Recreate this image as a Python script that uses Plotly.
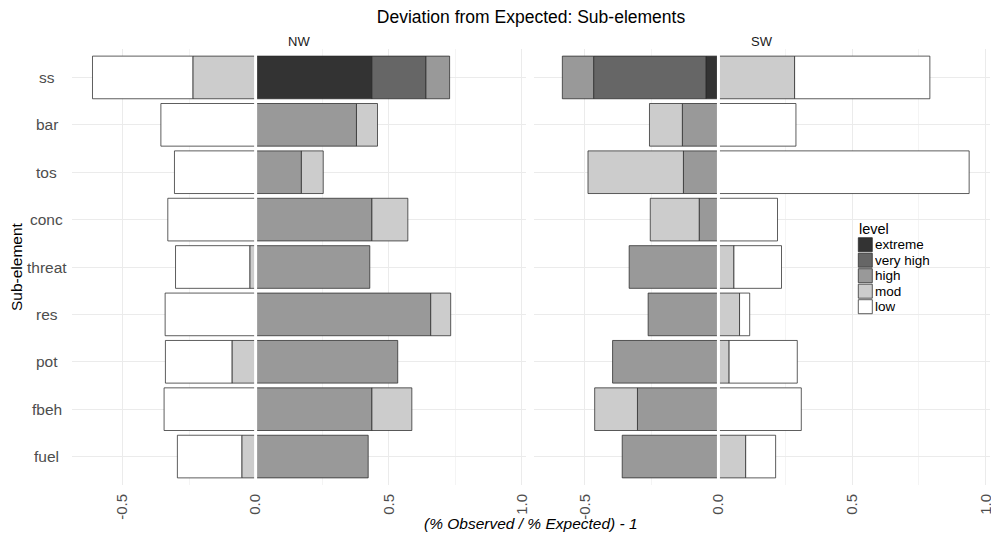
import plotly.graph_objects as go

categories = ["ss", "bar", "tos", "conc", "threat", "res", "pot", "fbeh", "fuel"]
levels = ["extreme", "very high", "high", "mod", "low"]
level_colors = ["#333333", "#666666", "#999999", "#cccccc", "#ffffff"]
panels = ["NW", "SW"]

nw_extreme = [0.437, None, None, None, None, None, None, None, None]
nw_very_high = [0.203, None, None, None, None, None, None, None, None]
nw_high = [0.089, 0.379, 0.172, 0.437, 0.429, 0.658, 0.534, 0.437, 0.423]
nw_mod = [-0.236, 0.079, 0.082, 0.135, -0.022, 0.075, -0.089, 0.150, -0.052]
nw_low = [-0.377, -0.356, -0.305, -0.330, -0.279, -0.340, -0.250, -0.344, -0.242]

sw_extreme = [-0.047, None, None, None, None, None, None, None, None]
sw_very_high = [-0.420, None, None, None, None, None, None, None, None]
sw_high = [-0.117, -0.135, -0.131, -0.072, -0.334, -0.263, -0.396, -0.303, -0.360]
sw_mod = [0.285, -0.123, -0.357, -0.183, 0.058, 0.079, 0.040, -0.160, 0.102]
sw_low = [0.506, 0.290, 0.938, 0.221, 0.178, 0.038, 0.255, 0.310, 0.112]

x_ticks = [-0.5, 0.0, 0.5, 1.0]
x_tick_labels = ["-0.5", "0.0", "0.5", "1.0"]

panel_data = {
    "NW": [nw_extreme, nw_very_high, nw_high, nw_mod, nw_low],
    "SW": [sw_extreme, sw_very_high, sw_high, sw_mod, sw_low],
}

W, H = 991, 541
ml, mr, mt, mb = 72, 1, 49, 56
pw = W - ml - mr
ph = H - mt - mb


def px_x(p):
    return (p - ml) / pw


def px_y(p):
    return 1 - (p - mt) / ph


outline = "rgba(40,40,40,0.75)"
fig = go.Figure()
axes = [("x", "y"), ("x2", "y2")]
for p_i, panel in enumerate(panels):
    xa, ya = axes[p_i]
    for l_i, lev in enumerate(levels):
        fig.add_trace(go.Bar(
            y=categories, x=panel_data[panel][l_i], orientation="h",
            name=lev, legendgroup=lev, showlegend=False,
            marker=dict(color=level_colors[l_i], line=dict(color=outline, width=1)),
            xaxis=xa, yaxis=ya,
            hovertemplate="%{y}: %{x}<extra>" + lev + "</extra>",
        ))

font_family = "Liberation Sans, Arial, sans-serif"
xrange = [-0.69, 1.016]
yrange = [8.6, -0.6]
grid_major = "#ebebeb"
grid_minor = "#f4f4f4"

dom1 = [0.0, px_x(526)]
dom2 = [px_x(534), 1.0]

xcommon = dict(range=xrange, tickvals=x_ticks, ticktext=x_tick_labels, tickangle=-90,
               showgrid=True, gridcolor=grid_major, gridwidth=1, zeroline=False,
               showline=False, ticks="", ticklabelstandoff=5, ticklabeloverflow="allow",
               tickfont=dict(size=15, color="#4d4d4d", family=font_family),
               minor=dict(tickvals=[-0.25, 0.25, 0.75], showgrid=True, gridcolor=grid_minor, gridwidth=1))
ycommon = dict(range=yrange, type="category", categoryorder="array", categoryarray=categories,
               showgrid=True, gridcolor=grid_major, gridwidth=1, zeroline=False,
               showline=False, ticks="", showticklabels=False)

fig.update_layout(
    width=W, height=H,
    margin=dict(l=ml, r=mr, t=mt, b=mb, autoexpand=False),
    paper_bgcolor="white", plot_bgcolor="white",
    barmode="relative", bargap=0.1,
    font=dict(family=font_family, color="#1a1a1a"),
    xaxis=dict(domain=dom1, anchor="y", **xcommon),
    xaxis2=dict(domain=dom2, anchor="y2", **xcommon),
    yaxis=dict(domain=[0, 1], anchor="x", **ycommon),
    yaxis2=dict(domain=[0, 1], anchor="x2", **ycommon),
    title=dict(text="Deviation from Expected: Sub-elements", x=0.5, xref="paper",
               xanchor="center", y=1 - 17 / H, yanchor="middle",
               font=dict(size=17.5, color="#000000", family=font_family)),
    showlegend=False,
)

# white separator at zero
for xa in ["x", "x2"]:
    dom_y = "y domain" if xa == "x" else "y2 domain"
    fig.add_shape(type="line", xref=xa, yref=dom_y, x0=0, x1=0, y0=0, y1=1,
                  line=dict(color="white", width=3), layer="above")

# facet strip labels
for p_i, panel in enumerate(panels):
    dom = dom1 if p_i == 0 else dom2
    fig.add_annotation(text=panel, xref="paper", yref="paper", x=(dom[0] + dom[1]) / 2,
                       y=px_y(41), showarrow=False, xanchor="center", yanchor="middle",
                       font=dict(size=13, color="#1a1a1a", family=font_family))

# y category labels (centered)
for c in categories:
    fig.add_annotation(text=c, xref="paper", yref="y", x=px_x(46.5), y=c, showarrow=False,
                       xanchor="center", yanchor="middle",
                       font=dict(size=15.5, color="#4d4d4d", family=font_family))

# axis titles
fig.add_annotation(text="<i>(% Observed / % Expected) - 1</i>", xref="paper", yref="paper",
                   x=0.5, y=px_y(523), showarrow=False, xanchor="center", yanchor="middle",
                   font=dict(size=15.5, color="#000000", family=font_family))
fig.add_annotation(text="Sub-element", xref="paper", yref="paper", textangle=-90,
                   x=px_x(16), y=0.5, showarrow=False, xanchor="center", yanchor="middle",
                   font=dict(size=15.5, color="#000000", family=font_family))

# legend (drawn inside SW panel, ggplot-style compact keys)
fig.add_annotation(text="level", xref="paper", yref="paper", x=px_x(857), y=px_y(228.5),
                   showarrow=False, xanchor="left", yanchor="middle", height=15,
                   font=dict(size=14.5, color="#000000", family=font_family))
for l_i, lev in enumerate(levels):
    top = 237.7 + 15.5 * l_i
    fig.add_shape(type="rect", xref="paper", yref="paper",
                  x0=px_x(858.3), x1=px_x(872.3), y0=px_y(top + 14), y1=px_y(top),
                  fillcolor=level_colors[l_i], line=dict(color=outline, width=1), layer="above")
    fig.add_annotation(text=lev, xref="paper", yref="paper", x=px_x(873), y=px_y(top + 7),
                       showarrow=False, xanchor="left", yanchor="middle", height=15,
                       font=dict(size=13.5, color="#000000", family=font_family))

fig.write_html("out.html", config={"displayModeBar": False},
               post_script="document.body.style.margin='0px';")
